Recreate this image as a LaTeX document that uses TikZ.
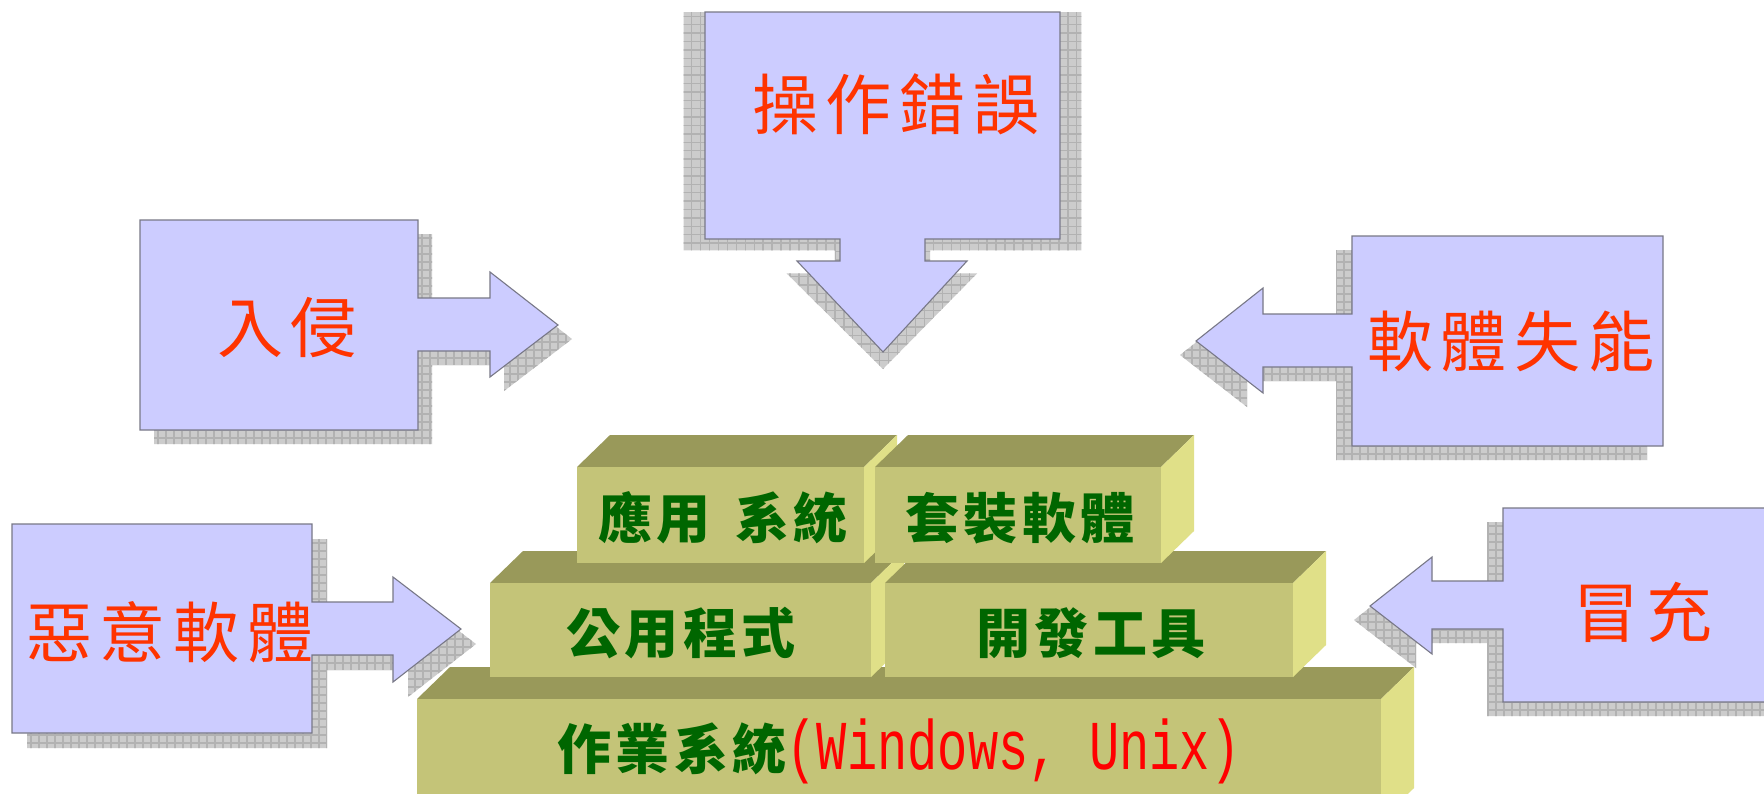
\documentclass[tikz,border=0pt]{standalone}
\usepackage{fontspec}
\newfontfamily\cjkred[LetterSpace=12]{Noto Sans CJK TC}
\newfontfamily\cjkgreen[LetterSpace=8]{Noto Sans CJK TC}
\newfontfamily\monored[FakeStretch=0.72]{Liberation Mono}

\definecolor{calloutblue}{RGB}{204,204,255}
\definecolor{calloutedge}{RGB}{120,120,135}
\definecolor{shadowgray}{RGB}{204,204,204}
\definecolor{gridgray}{RGB}{178,178,178}
\definecolor{redtext}{RGB}{255,51,0}
\definecolor{monotext}{RGB}{255,0,0}
\definecolor{greentext}{RGB}{0,102,0}
\definecolor{blockfront}{RGB}{196,196,120}
\definecolor{blocktop}{RGB}{153,153,90}
\definecolor{blockside}{RGB}{224,224,136}

% a hatched drop shadow: the outline given as a path style, moved by #1
\newcommand\dropshadow[2]{%
  \begin{scope}[#1]
    \clip[#2];
    \fill[shadowgray] (-60,-60) rectangle (1900,900);
    \draw[gridline] (-60,-60) grid (1900,900);
  \end{scope}}

% a bevelled block: front rectangle from (#1,#2) to (#3,#4)
\newcommand\olivebox[4]{%
  \fill[blocktop] (#1,#2) -- (#3,#2) -- ++(33,-32) -- ($(#1,#2)+(33,-32)$) -- cycle;
  \fill[blockside] (#3,#2) -- ++(33,-32) -- ($(#3,#4)+(33,-32)$) -- (#3,#4) -- cycle;
  \fill[blockfront] (#1,#2) rectangle (#3,#4);}

\begin{document}
\begin{tikzpicture}[x=0.5pt,y=-0.5pt,
  callout/.style={fill=calloutblue, draw=calloutedge, line width=0.55pt, line join=miter},
  gridline/.style={draw=gridgray, line width=0.7pt, step=4pt},
  redtxt/.style={text=redtext, inner sep=0pt, font=\cjkred\fontsize{33}{33}\selectfont},
  greentxt/.style={text=greentext, inner sep=0pt, font=\cjkgreen\bfseries\fontsize{27}{27}\selectfont},
  % outlines of the five arrow callouts
  pathIntrusion/.style={insert path={(140,220) -- (418,220) -- (418,298) -- (490,298) -- (490,272)
      -- (558,325) -- (490,377) -- (490,351) -- (418,351) -- (418,430) -- (140,430) -- cycle}},
  pathMalware/.style={insert path={(12,524) -- (312,524) -- (312,602) -- (393,602) -- (393,577)
      -- (461,629) -- (393,682) -- (393,655) -- (312,655) -- (312,733) -- (12,733) -- cycle}},
  pathOperation/.style={insert path={(705,12) -- (1060,12) -- (1060,239) -- (925,239) -- (925,261)
      -- (967,261) -- (883,352) -- (797,261) -- (840,261) -- (840,239) -- (705,239) -- cycle}},
  pathFailure/.style={insert path={(1663,236) -- (1352,236) -- (1352,314) -- (1263,314) -- (1263,288)
      -- (1196,341) -- (1263,393) -- (1263,367) -- (1352,367) -- (1352,446) -- (1663,446) -- cycle}},
  pathSpoof/.style={insert path={(1790,508) -- (1503,508) -- (1503,581) -- (1432,581) -- (1432,557)
      -- (1370,606) -- (1432,654) -- (1432,629) -- (1503,629) -- (1503,702) -- (1790,702) -- cycle}},
]
\usetikzlibrary{calc}
\fill[white] (0,0) rectangle (1764,793);
\clip (0,0) rectangle (1764,793);

% shadows
\dropshadow{shift={(14,14)}}{pathIntrusion}
\dropshadow{shift={(15,15)}}{pathMalware}
\dropshadow{shift={(883,12)}, xscale=1.12, yscale=1.05, shift={(-883,-12)}}{pathOperation}
\dropshadow{shift={(-16,14)}}{pathFailure}
\dropshadow{shift={(-16,14)}}{pathSpoof}

% callouts
\draw[callout, pathIntrusion];
\draw[callout, pathMalware];
\draw[callout, pathOperation];
\draw[callout, pathFailure];
\draw[callout, pathSpoof];

\node[redtxt] (op)  at (896,104) {操作錯誤};
\node[redtxt] (in)  at (287,328) {入侵};
\node[redtxt] (mal) at (170,632) {惡意軟體};
\node[redtxt] (sw)  at (1511,341) {軟體失能};
\node[redtxt] (sp)  at (1643,612) {冒充};

% stacked layers
\olivebox{417}{699}{1381}{820}
\olivebox{490}{583}{871}{677}
\olivebox{885}{583}{1293}{677}
\olivebox{577}{467}{864}{563}
\olivebox{875}{467}{1161}{563}

\node[greentxt] (app)  at (723,518) {應用\hspace{0.45em}系統};
\node[greentxt] (pkg)  at (1020,518) {套裝軟體};
\node[greentxt] (util) at (681,633) {公用程式};
\node[greentxt] (dev)  at (1091,633) {開發工具};
\node[greentxt] (os)   at (899,751) {作業系統{\monored\mdseries\fontsize{35}{35}\selectfont\color{monotext}(Windows, Unix)}};
\end{tikzpicture}
\end{document}
